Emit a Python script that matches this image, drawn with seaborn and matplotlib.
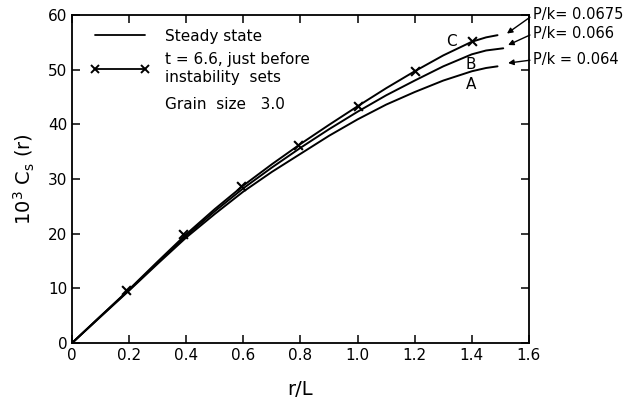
import matplotlib
matplotlib.use("Agg")
import matplotlib.pyplot as plt
from matplotlib.lines import Line2D
import seaborn as sns
import pandas as pd

# values
r_vals = [0, 0.1, 0.2, 0.3, 0.4, 0.5, 0.6, 0.7, 0.8, 0.9, 1.0, 1.1, 1.2, 1.3, 1.4, 1.45]
curve_a = [0, 4.8, 9.6, 14.5, 19.3, 23.6, 27.7, 31.3, 34.6, 37.9, 40.9, 43.6, 45.9, 48.0, 49.7, 50.3]
curve_b = [0, 4.9, 9.7, 14.7, 19.6, 24.1, 28.3, 32.1, 35.7, 39.1, 42.3, 45.3, 48.0, 50.6, 52.8, 53.5]
curve_c = [0, 4.9, 9.8, 14.9, 19.9, 24.5, 28.8, 32.7, 36.4, 39.9, 43.3, 46.6, 49.7, 52.6, 55.1, 55.9]
# curve end points
end_r = {"A": 1.49, "B": 1.51, "C": 1.49}
end_val = {"A": 50.6, "B": 53.9, "C": 56.3}

# t = 6.6 points (crosses)
cross_r = [0.19, 0.39, 0.59, 0.79, 1.0, 1.2, 1.4]
cross_val = [9.7, 19.9, 28.8, 36.3, 43.3, 49.8, 55.3]

pk_labels = ["P/k= 0.0675", "P/k= 0.066", "P/k = 0.064"]
pk_text_y = [60.0, 56.6, 51.8]
pk_tip = [(1.523, 56.6), (1.527, 54.5), (1.527, 51.2)]

x_ticks = [0, 0.2, 0.4, 0.6, 0.8, 1.0, 1.2, 1.4, 1.6]
x_ticklabels = ["0", "0.2", "0.4", "0.6", "0.8", "1.0", "1.2", "1.4", "1.6"]
y_ticks = [0, 10, 20, 30, 40, 50, 60]

# build a long table for seaborn
rows = []
for name, vals in [("A", curve_a), ("B", curve_b), ("C", curve_c)]:
    for r, v in zip(r_vals + [end_r[name]], vals + [end_val[name]]):
        rows.append({"r": r, "cs": v, "curve": name})
df = pd.DataFrame(rows)
df_cross = pd.DataFrame({"r": cross_r, "cs": cross_val})

sns.set_style("ticks")
plt.rcParams["font.family"] = ["DejaVu Sans"]
plt.rcParams["text.color"] = "black"
plt.rcParams["axes.labelcolor"] = "black"

fig, ax = plt.subplots(figsize=(6.23, 4.04), dpi=100)
fig.subplots_adjust(left=0.1156, right=0.849, bottom=0.151, top=0.963)

sns.lineplot(data=df, x="r", y="cs", hue="curve", palette=["black"] * 3,
             linewidth=1.4, legend=False, ax=ax, sort=True)
sns.scatterplot(data=df_cross, x="r", y="cs", marker="x", color="black",
                s=40, linewidth=1.5, ax=ax, zorder=3)

# curve letters
ax.text(1.33, 55.2, "C", fontsize=11, ha="center", va="center")
ax.text(1.398, 51.0, "B", fontsize=11, ha="center", va="center")
ax.text(1.398, 47.2, "A", fontsize=11, ha="center", va="center")

# P/k labels with arrows
for lab, ty, tip in zip(pk_labels, pk_text_y, pk_tip):
    ax.annotate(lab, xy=tip, xytext=(1.615, ty), fontsize=10.5,
                ha="left", va="center", annotation_clip=False,
                arrowprops=dict(arrowstyle="-|>", color="black", lw=1.0,
                                mutation_scale=8, shrinkA=0, shrinkB=0,
                                relpos=(0, 0.5)))

# legend
handles = [Line2D([], [], color="black", lw=1.3),
           Line2D([], [], color="black", lw=1.3, marker="x", markersize=6,
                  markeredgewidth=1.4)]
leg = ax.legend(handles, ["Steady state", "t = 6.6, just before\ninstability  sets"],
                loc="upper left", bbox_to_anchor=(0.01, 1.0), frameon=False,
                numpoints=2, handlelength=3.9, handletextpad=1.0,
                labelspacing=0.55, fontsize=11)
ax.text(0.326, 43.6, "Grain  size   3.0", fontsize=11, ha="left", va="center")

ax.set_xlim(0, 1.6)
ax.set_ylim(0, 60)
ax.set_xticks(x_ticks)
ax.set_xticklabels(x_ticklabels)
ax.set_yticks(y_ticks)
ax.tick_params(direction="in", top=True, right=True, length=6, width=1.1,
               labelsize=11, colors="black")
for s in ax.spines.values():
    s.set_linewidth(1.3)
    s.set_color("black")

ax.set_xlabel("r/L", fontsize=14, labelpad=12)
ax.set_ylabel(r"$\mathregular{10^3\ C_s\ (r)}$", fontsize=14, labelpad=8)

fig.savefig("out.png", dpi=100)
